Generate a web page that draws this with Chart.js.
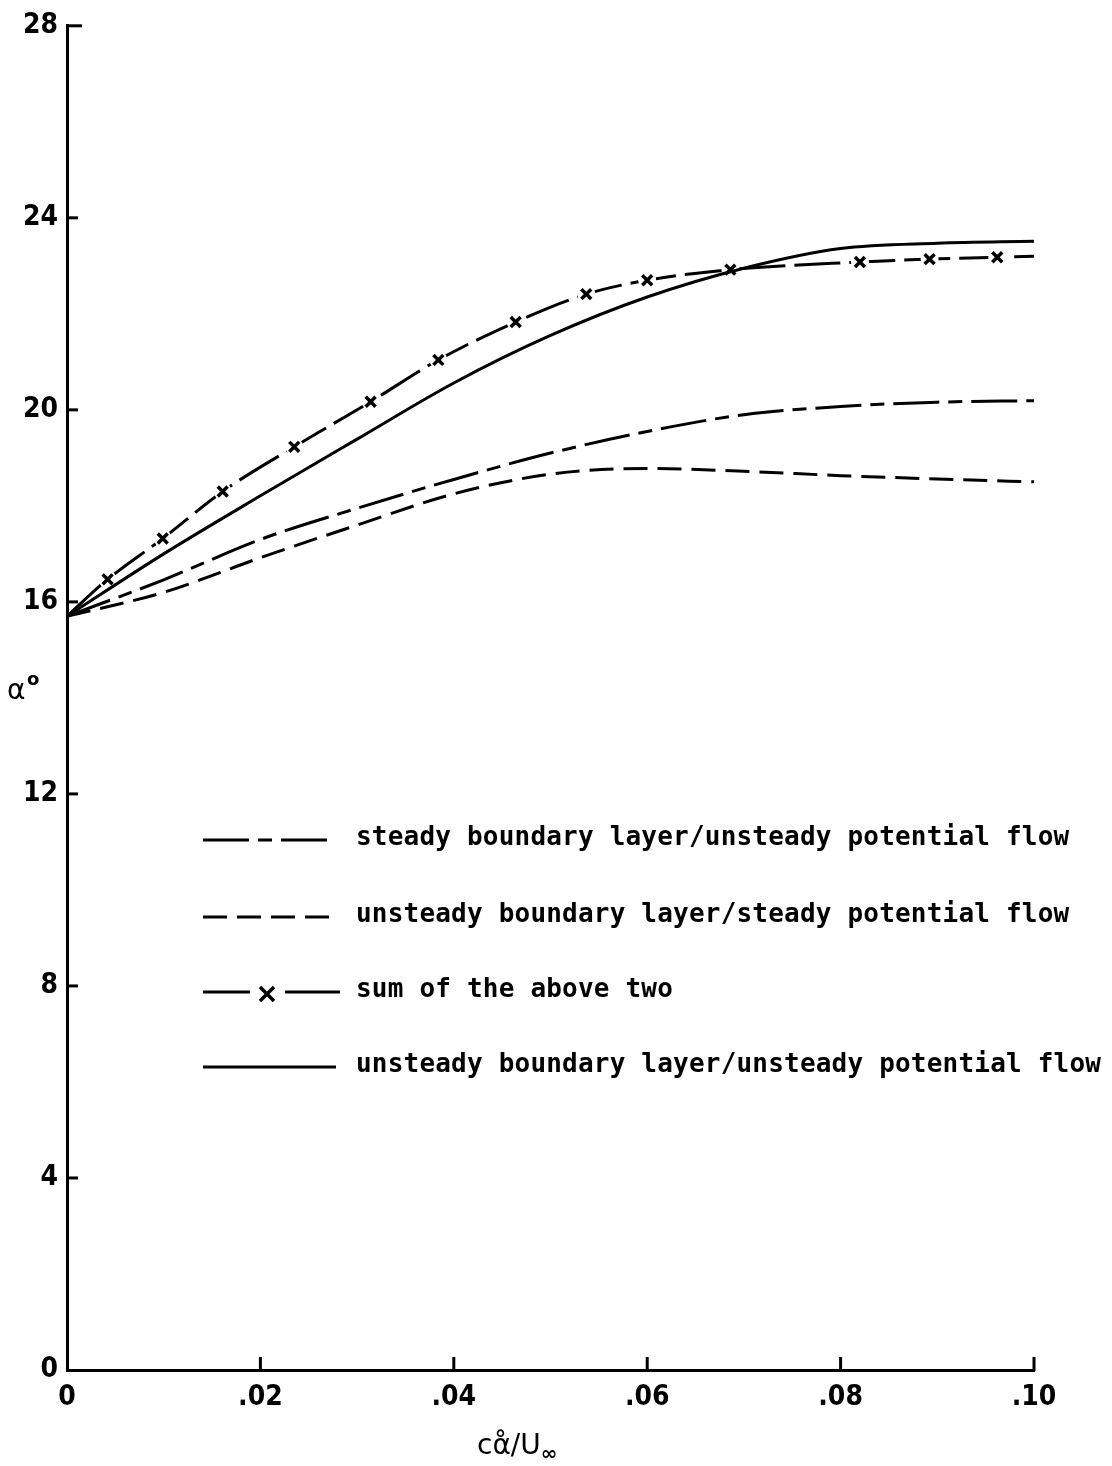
<!DOCTYPE html>
<html>
<head>
<meta charset="utf-8">
<script src="https://cdn.jsdelivr.net/npm/chart.js@4"></script>
<style>
  html, body { margin: 0; padding: 0; background: #fff; }
  #wrap { width: 1112px; height: 1466px; position: relative; }
</style>
</head>
<body>
<div id="wrap"><canvas id="alphaChart"></canvas></div>
<script>
// pitch rate parameter c*alpha_dot/U_inf
const rateGrid = [0, 0.01, 0.02, 0.03, 0.04, 0.05, 0.06, 0.07, 0.08, 0.09, 0.10];

// stall angle (deg) for each model on the common grid
const steadyBLUnsteadyPot = [15.7, 16.46, 17.3, 17.95, 18.55, 19.1, 19.55, 19.9, 20.07, 20.16, 20.19];
const unsteadyBLSteadyPot = [15.7, 16.2, 16.92, 17.6, 18.25, 18.66, 18.78, 18.72, 18.63, 18.56, 18.5];
const unsteadyBoth        = [15.7, 17.0, 18.21, 19.39, 20.56, 21.55, 22.35, 22.95, 23.36, 23.47, 23.51];

// sum of the first two, computed at its own rates (first/last are line ends only)
const sumRate  = [0, 0.0042, 0.0099, 0.0161, 0.0235, 0.0314, 0.0384, 0.0464, 0.0537, 0.0600, 0.0686, 0.0820, 0.0892, 0.0962, 0.100];
const sumAlpha = [15.7, 16.47, 17.32, 18.30, 19.23, 20.17, 21.04, 21.83, 22.41, 22.70, 22.92, 23.08, 23.14, 23.18, 23.2];

const xTickValues = [0, 0.02, 0.04, 0.06, 0.08, 0.10];
const yTickValues = [0, 4, 8, 12, 16, 20, 24, 28];

const legendLabels = [
    'steady boundary layer/unsteady potential flow',
    'unsteady boundary layer/steady potential flow',
    'sum of the above two',
    'unsteady boundary layer/unsteady potential flow'
];

const toPoints = (xs, ys) => xs.map((x, i) => ({ x: x, y: ys[i] }));
const sumMarkers = toPoints(sumRate, sumAlpha).slice(1, -1);

const DASH_DOT = [46, 9, 14, 9];
const DASHED = [24, 10];
const SUM_DASH = [46, 9];
const TICK_FONT = { family: '"Liberation Sans Narrow", "DejaVu Sans Condensed", "DejaVu Sans"', size: 28, weight: 'bold' };

// inward tick marks, custom legend and the axis symbols
const plotDecor = {
    id: 'plotDecor',
    afterDraw(chart) {
        const { ctx, chartArea, scales } = chart;
        const xs = scales.x, ys = scales.y;
        ctx.save();
        ctx.strokeStyle = '#000';
        ctx.lineWidth = 3;
        ctx.lineCap = 'butt';
        ctx.setLineDash([]);

        yTickValues.forEach(v => {
            if (v === 0) return;
            const py = ys.getPixelForValue(v);
            ctx.beginPath();
            ctx.moveTo(chartArea.left - 1, py);
            ctx.lineTo(chartArea.left + (v === 28 ? 15 : 11), py);
            ctx.stroke();
        });
        xTickValues.forEach(v => {
            if (v === 0) return;
            const px = xs.getPixelForValue(v);
            ctx.beginPath();
            ctx.moveTo(px, chartArea.bottom + 1);
            ctx.lineTo(px, chartArea.bottom - 13);
            ctx.stroke();
        });

        // legend
        const rows = [840, 917, 992, 1067];
        const dashes = [DASH_DOT, DASHED, null, []];
        const x0 = 203, x1 = 336, textX = 356;
        ctx.font = 'bold 26px "DejaVu Sans Mono"';
        ctx.letterSpacing = '0.2px';
        ctx.fillStyle = '#000';
        ctx.textBaseline = 'middle';
        ctx.textAlign = 'left';
        rows.forEach((ry, i) => {
            ctx.lineWidth = 3;
            ctx.setLineDash([]);
            if (i === 2) {
                ctx.beginPath();
                ctx.moveTo(x0, ry); ctx.lineTo(250, ry);
                ctx.moveTo(285, ry); ctx.lineTo(x1 + 4, ry);
                ctx.stroke();
                const cx = 267, cy = ry + 2, r = 7;
                ctx.lineWidth = 3.5;
                ctx.beginPath();
                ctx.moveTo(cx - r, cy - r); ctx.lineTo(cx + r, cy + r);
                ctx.moveTo(cx + r, cy - r); ctx.lineTo(cx - r, cy + r);
                ctx.stroke();
            } else {
                ctx.setLineDash(dashes[i]);
                ctx.beginPath();
                ctx.moveTo(x0, ry); ctx.lineTo(x1, ry);
                ctx.stroke();
                ctx.setLineDash([]);
            }
            ctx.fillText(legendLabels[i], textX, ry - 2);
        });
        ctx.letterSpacing = '0px';

        // y axis symbol: alpha with degree ring
        ctx.font = '28px "DejaVu Sans"';
        ctx.textBaseline = 'alphabetic';
        ctx.fillText('α', 7, 699);
        ctx.font = 'bold 18px "DejaVu Sans"';
        ctx.fillText('o', 27, 685);

        // x axis symbol: c alpha-dot / U infinity
        ctx.font = '28px "DejaVu Sans"';
        ctx.fillText('cα̊/U', 477, 1454);
        const w = ctx.measureText('cα̊/U').width;
        ctx.font = 'bold 20px "DejaVu Sans"';
        ctx.fillText('∞', 477 + w, 1460);
        ctx.restore();
    }
};

const ctx = document.getElementById('alphaChart').getContext('2d');

// lower order is painted later (on top)
new Chart(ctx, {
    type: 'line',
    data: {
        datasets: [
            {
                label: legendLabels[0],
                data: toPoints(rateGrid, steadyBLUnsteadyPot),
                borderColor: '#000',
                borderWidth: 3,
                borderDash: DASH_DOT,
                pointRadius: 0,
                cubicInterpolationMode: 'monotone',
                order: 1
            },
            {
                label: legendLabels[1],
                data: toPoints(rateGrid, unsteadyBLSteadyPot),
                borderColor: '#000',
                borderWidth: 3,
                borderDash: DASHED,
                pointRadius: 0,
                cubicInterpolationMode: 'monotone',
                order: 1
            },
            {
                label: legendLabels[2],
                data: toPoints(sumRate, sumAlpha),
                borderColor: '#000',
                borderWidth: 3,
                borderDash: SUM_DASH,
                pointRadius: 0,
                cubicInterpolationMode: 'monotone',
                order: 4
            },
            {
                // white gaps where the sum line passes its markers
                label: 'gaps',
                data: sumMarkers,
                showLine: false,
                pointStyle: 'circle',
                pointRadius: 9,
                pointBorderWidth: 0,
                pointBackgroundColor: '#fff',
                pointBorderColor: '#fff',
                order: 3
            },
            {
                label: 'markers',
                data: sumMarkers,
                showLine: false,
                pointStyle: 'crossRot',
                pointRadius: 7,
                pointBorderWidth: 3.5,
                pointBorderColor: '#000',
                order: 2
            },
            {
                label: legendLabels[3],
                data: toPoints(rateGrid, unsteadyBoth),
                borderColor: '#000',
                borderWidth: 3,
                pointRadius: 0,
                cubicInterpolationMode: 'monotone',
                order: 0
            }
        ]
    },
    options: {
        responsive: true,
        maintainAspectRatio: false,
        animation: false,
        layout: { padding: { top: 23, right: 78, left: 0, bottom: 0 } },
        plugins: {
            legend: { display: false },
            tooltip: { enabled: false }
        },
        scales: {
            x: {
                type: 'linear',
                min: 0,
                max: 0.10,
                afterFit: s => { s.height = 96; },
                afterBuildTicks: s => { s.ticks = xTickValues.map(v => ({ value: v })); },
                grid: { display: false, drawTicks: false },
                border: { display: true, color: '#000', width: 3 },
                ticks: {
                    color: '#000',
                    padding: 11,
                    font: TICK_FONT,
                    callback: v => v === 0 ? '0' : v.toFixed(2).slice(1)
                }
            },
            y: {
                min: 0,
                max: 28,
                afterFit: s => { s.width = 67; },
                afterBuildTicks: s => { s.ticks = yTickValues.map(v => ({ value: v })); },
                grid: { display: false, drawTicks: false },
                border: { display: true, color: '#000', width: 3 },
                ticks: {
                    color: '#000',
                    padding: 9,
                    font: TICK_FONT
                }
            }
        }
    },
    plugins: [plotDecor]
});
</script>
</body>
</html>
